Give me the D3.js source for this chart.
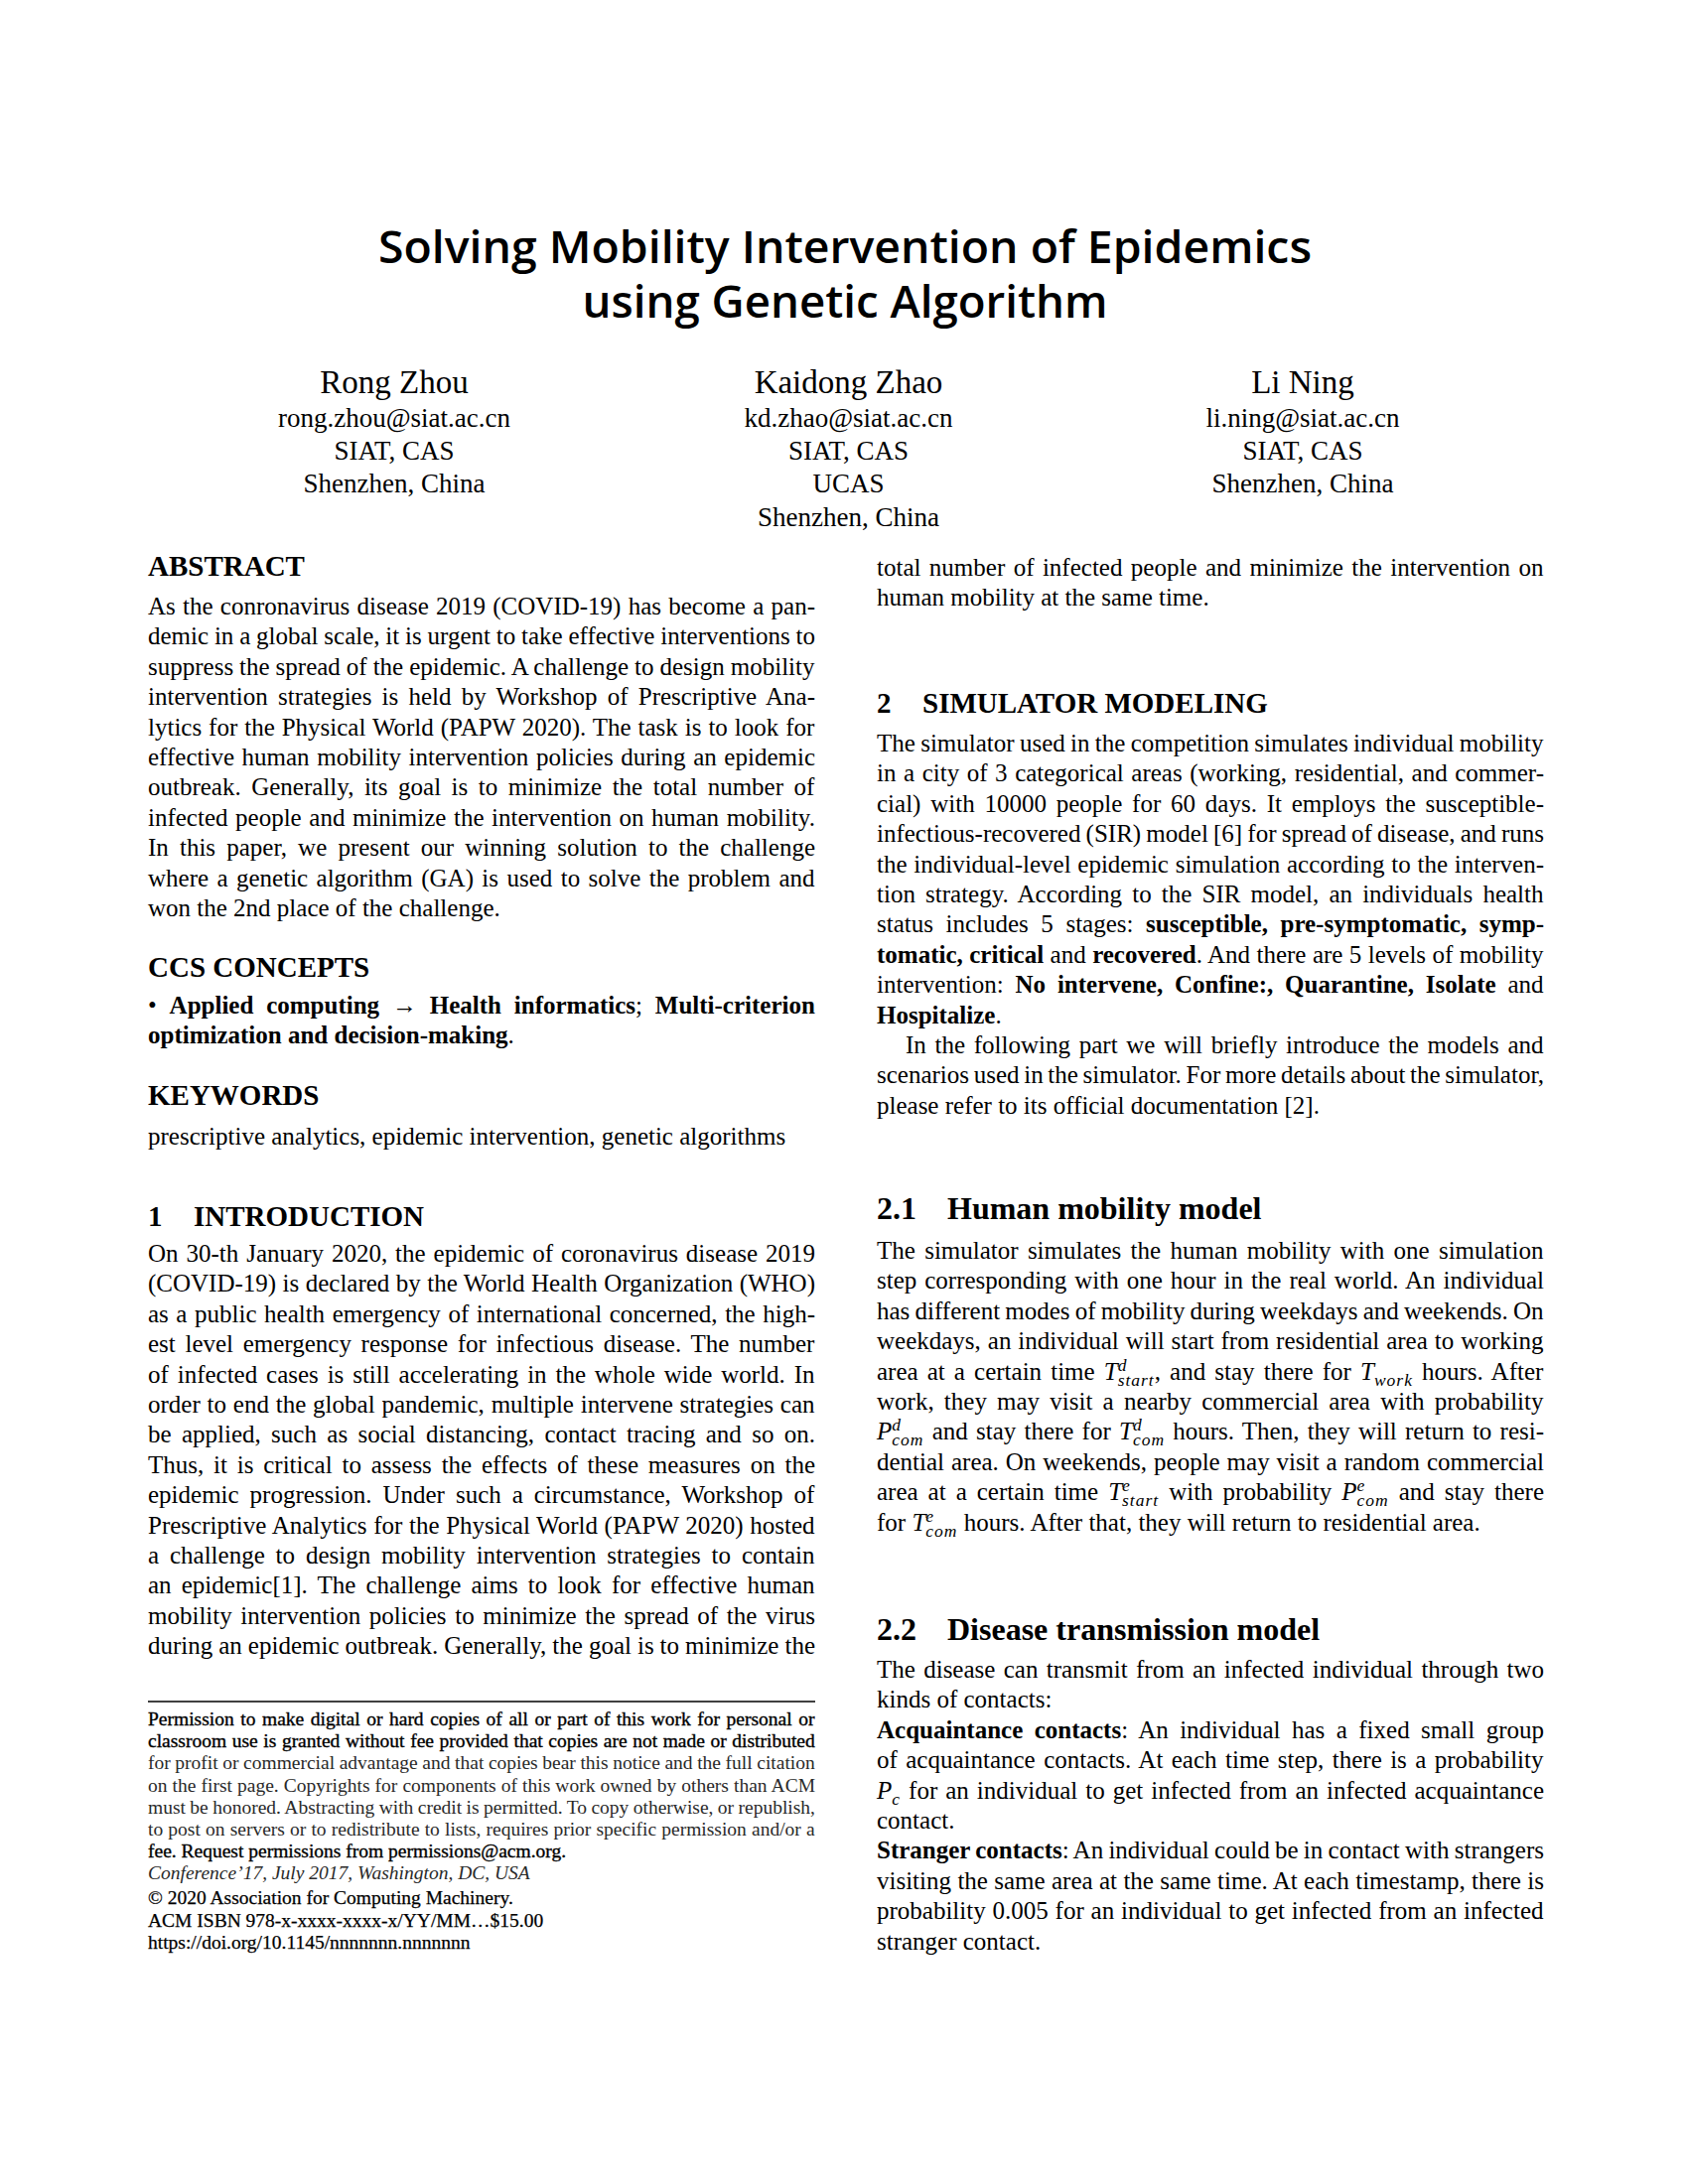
<!DOCTYPE html>
<html><head><meta charset="utf-8">
<script src="https://cdn.jsdelivr.net/npm/d3@7"></script>
<style>html,body{margin:0;padding:0;background:#fff}</style>
</head><body><svg id="page"></svg>
<script>
// ---------- content ----------
const titleLines = ["Solving Mobility Intervention of Epidemics", "using Genetic Algorithm"];
const authorNames = ["Rong Zhou", "Kaidong Zhao", "Li Ning"];
const authorInfo = [
  ["rong.zhou@siat.ac.cn", "SIAT, CAS", "Shenzhen, China"],
  ["kd.zhao@siat.ac.cn", "SIAT, CAS", "UCAS", "Shenzhen, China"],
  ["li.ning@siat.ac.cn", "SIAT, CAS", "Shenzhen, China"]
];
const abstractParas = [[
  "As the conronavirus disease 2019 (COVID-19) has become a pan-",
  "demic in a global scale, it is urgent to take effective interventions to",
  "suppress the spread of the epidemic. A challenge to design mobility",
  "intervention strategies is held by Workshop of Prescriptive Ana-",
  "lytics for the Physical World (PAPW 2020). The task is to look for",
  "effective human mobility intervention policies during an epidemic",
  "outbreak. Generally, its goal is to minimize the total number of",
  "infected people and minimize the intervention on human mobility.",
  "In this paper, we present our winning solution to the challenge",
  "where a genetic algorithm (GA) is used to solve the problem and",
  "won the 2nd place of the challenge."
]];
const ccsParas = [[
  "• **Applied computing** → **Health informatics**; **Multi-criterion**",
  "**optimization and decision-making**."
]];
const keywordParas = [["prescriptive analytics, epidemic intervention, genetic algorithms"]];
const introParas = [[
  "On 30-th January 2020, the epidemic of coronavirus disease 2019",
  "(COVID-19) is declared by the World Health Organization (WHO)",
  "as a public health emergency of international concerned, the high-",
  "est level emergency response for infectious disease. The number",
  "of infected cases is still accelerating in the whole wide world. In",
  "order to end the global pandemic, multiple intervene strategies can",
  "be applied, such as social distancing, contact tracing and so on.",
  "Thus, it is critical to assess the effects of these measures on the",
  "epidemic progression. Under such a circumstance, Workshop of",
  "Prescriptive Analytics for the Physical World (PAPW 2020) hosted",
  "a challenge to design mobility intervention strategies to contain",
  "an epidemic[1]. The challenge aims to look for effective human",
  "mobility intervention policies to minimize the spread of the virus",
  "during an epidemic outbreak. Generally, the goal is to minimize the"
]];
const introContParas = [[
  "total number of infected people and minimize the intervention on",
  "human mobility at the same time."
]];
const simParas = [[
  "The simulator used in the competition simulates individual mobility",
  "in a city of 3 categorical areas (working, residential, and commer-",
  "cial) with 10000 people for 60 days. It employs the susceptible-",
  "infectious-recovered (SIR) model [6] for spread of disease, and runs",
  "the individual-level epidemic simulation according to the interven-",
  "tion strategy. According to the SIR model, an individuals health",
  "status includes 5 stages: **susceptible, pre-symptomatic, symp-**",
  "**tomatic, critical** and **recovered**. And there are 5 levels of mobility",
  "intervention: **No intervene, Confine:, Quarantine, Isolate** and",
  "**Hospitalize**."
], [
  "In the following part we will briefly introduce the models and",
  "scenarios used in the simulator. For more details about the simulator,",
  "please refer to its official documentation [2]."
]];
const mobilityParas = [[
  "The simulator simulates the human mobility with one simulation",
  "step corresponding with one hour in the real world. An individual",
  "has different modes of mobility during weekdays and weekends. On",
  "weekdays, an individual will start from residential area to working",
  "area at a certain time {T|d|start}, and stay there for {T||work} hours. After",
  "work, they may visit a nearby commercial area with probability",
  "{P|d|com} and stay there for {T|d|com} hours. Then, they will return to resi-",
  "dential area. On weekends, people may visit a random commercial",
  "area at a certain time {T|e|start} with probability {P|e|com} and stay there",
  "for {T|e|com} hours. After that, they will return to residential area."
]];
const diseaseParas = [[
  "The disease can transmit from an infected individual through two",
  "kinds of contacts:"
], [
  "**Acquaintance contacts**: An individual has a fixed small group",
  "of acquaintance contacts. At each time step, there is a probability",
  "{P||c} for an individual to get infected from an infected acquaintance",
  "contact."
], [
  "**Stranger contacts**: An individual could be in contact with strangers",
  "visiting the same area at the same time. At each timestamp, there is",
  "probability 0.005 for an individual to get infected from an infected",
  "stranger contact."
]];
const footnoteLines = [
  "Permission to make digital or hard copies of all or part of this work for personal or",
  "classroom use is granted without fee provided that copies are not made or distributed",
  "for profit or commercial advantage and that copies bear this notice and the full citation",
  "on the first page. Copyrights for components of this work owned by others than ACM",
  "must be honored. Abstracting with credit is permitted. To copy otherwise, or republish,",
  "to post on servers or to redistribute to lists, requires prior specific permission and/or a",
  "fee. Request permissions from permissions@acm.org."
];
const footnoteMeta = [
  "Conference’17, July 2017, Washington, DC, USA",
  "© 2020 Association for Computing Machinery.",
  "ACM ISBN 978-x-xxxx-xxxx-x/YY/MM…$15.00",
  "https://doi.org/10.1145/nnnnnnn.nnnnnnn"
];
const sections = [
  {num: "ABSTRACT", title: ""},
  {num: "CCS CONCEPTS", title: ""},
  {num: "KEYWORDS", title: ""},
  {num: "1", title: "INTRODUCTION"},
  {num: "2", title: "SIMULATOR MODELING"},
  {num: "2.1", title: "Human mobility model"},
  {num: "2.2", title: "Disease transmission model"}
];

// ---------- layout ----------
const W = 1700, H = 2200;
const SERIF = "'Liberation Serif','Times New Roman',serif";
const SANS = "'Open Sans','Noto Sans',sans-serif";
const L = {x: 149, w: 672}, R = {x: 883, w: 672};
const BODY = 25, LH = 30.4;

const svg = d3.select("#page").attr("width", W).attr("height", H)
  .attr("viewBox", `0 0 ${W} ${H}`);
svg.append("rect").attr("width", W).attr("height", H).attr("fill", "#fff");

function richLine(g, str, x, y, o) {
  const t = g.append("text").attr("x", x).attr("y", y)
    .attr("font-family", o.family || SERIF).attr("font-size", o.size)
    .attr("fill", o.fill || "#000").style("white-space", "pre");
  if (o.italic) t.attr("font-style", "italic");
  if (o.stroke) t.attr("stroke", o.fill || "#000").attr("stroke-width", o.stroke);
  const parts = str.split(/(\*\*[^*]+\*\*|\{[^}]+\})/).filter(s => s.length);
  let shift = 0, plain = "";
  parts.forEach(p => {
    if (p.startsWith("**")) {
      const s = p.slice(2, -2);
      t.append("tspan").attr("font-weight", "bold").attr("dy", -shift).text(s);
      shift = 0; plain += s;
    } else if (p.startsWith("{")) {
      const [base, sup, sub] = p.slice(1, -1).split("|");
      t.append("tspan").attr("font-style", "italic").attr("dy", -shift).text(base);
      shift = 0; plain += base;
      const ss = o.size * 0.7;
      let supW = 0;
      if (sup) {
        const up = -o.size * 0.36;
        const s = t.append("tspan").attr("font-style", "italic").attr("font-size", ss)
          .attr("dy", up - shift).text(sup);
        shift = up; supW = s.node().getComputedTextLength();
      }
      if (sub) {
        const dn = o.size * 0.24;
        t.append("tspan").attr("font-style", "italic").attr("font-size", ss)
          .attr("dx", sup ? -supW : 0).attr("dy", dn - shift)
          .attr("letter-spacing", 1).text(sub);
        shift = dn;
      }
    } else {
      t.append("tspan").attr("dy", -shift).text(p);
      shift = 0; plain += p;
    }
  });
  if (o.justify) {
    const n = (plain.match(/ /g) || []).length;
    if (n > 0) {
      const bb = t.node().getBBox();
      const nat = bb.x + bb.width - x;
      t.style("word-spacing", ((o.right - x - nat) / n) + "px");
    }
  }
  return t;
}

function block(paras, col, y0, opts = {}) {
  const yScale = d3.scaleLinear().domain([0, 1]).range([y0, y0 + (opts.lh || LH)]);
  const g = svg.append("g");
  let i = 0;
  paras.forEach((lines, pi) => {
    lines.forEach((ln, li) => {
      const isLast = li === lines.length - 1 && !(opts.continues && pi === paras.length - 1);
      const indent = (li === 0 && opts.indentParas && opts.indentParas.includes(pi)) ? 29 : 0;
      richLine(g, ln, col.x + indent, yScale(i), {
        size: opts.size || BODY, justify: !isLast, right: col.x + col.w
      });
      i++;
    });
  });
}

function heading(sec, col, y, size) {
  const g = svg.append("g");
  g.append("text").attr("x", col.x).attr("y", y).attr("font-family", SERIF)
    .attr("font-weight", "bold").attr("font-size", size).text(sec.num);
  if (sec.title) {
    const off = sec.num.length > 1 ? 71 : 46;
    g.append("text").attr("x", col.x + off).attr("y", y).attr("font-family", SERIF)
      .attr("font-weight", "bold").attr("font-size", size).text(sec.title);
  }
}

// title
const titleY = d3.scaleLinear().domain([0, 1]).range([265, 320]);
const titleW = [940, 529];
svg.append("g").selectAll("text").data(titleLines).join("text")
  .attr("x", 851).attr("y", (d, i) => titleY(i))
  .attr("text-anchor", "middle").attr("font-family", SANS).attr("font-weight", 600)
  .attr("font-size", 45).attr("textLength", (d, i) => titleW[i])
  .attr("lengthAdjust", "spacingAndGlyphs").attr("fill", "#000").text(d => d);

// authors
const authorX = d3.scalePoint().domain(authorNames).range([397, 1312]);
const infoY = d3.scaleLinear().domain([0, 1]).range([430, 463.2]);
authorNames.forEach((name, k) => {
  const g = svg.append("g");
  g.append("text").attr("x", authorX(name)).attr("y", 396).attr("text-anchor", "middle")
    .attr("font-family", SERIF).attr("font-size", 33).text(name);
  g.selectAll("text.info").data(authorInfo[k]).join("text").attr("class", "info")
    .attr("x", authorX(name)).attr("y", (d, i) => infoY(i)).attr("text-anchor", "middle")
    .attr("font-family", SERIF).attr("font-size", 27).text(d => d);
});

// left column
heading(sections[0], L, 580, 29);
block(abstractParas, L, 619);
heading(sections[1], L, 984, 29);
block(ccsParas, L, 1021);
heading(sections[2], L, 1113, 29);
block(keywordParas, L, 1153);
heading(sections[3], L, 1235, 29);
block(introParas, L, 1271, {continues: true});

// footnote
svg.append("line").attr("x1", L.x).attr("x2", L.x + L.w).attr("y1", 1714).attr("y2", 1714)
  .attr("stroke", "#000").attr("stroke-width", 1.6);
const fnY = d3.scaleLinear().domain([0, 1]).range([1738, 1760.2]);
const fg = svg.append("g");
footnoteLines.forEach((ln, i) => {
  const heavy = i < 2 || i === 6;
  richLine(fg, ln, L.x, fnY(i), {size: 19.5, justify: i < 6, right: L.x + L.w,
    fill: heavy ? "#000" : "#2a2a2a", stroke: heavy ? 0.35 : 0});
});
const metaY = [1893, 1918, 1941, 1963];
footnoteMeta.forEach((ln, i) => {
  richLine(fg, ln, L.x, metaY[i], {size: 19.5, italic: i === 0,
    fill: i === 0 ? "#2a2a2a" : "#000", stroke: i === 0 ? 0 : 0.25});
});

// right column
block(introContParas, R, 580);
heading(sections[4], R, 718, 29);
block(simParas, R, 757, {indentParas: [1]});
heading(sections[5], R, 1228, 32);
block(mobilityParas, R, 1268);
heading(sections[6], R, 1652, 32);
block(diseaseParas, R, 1690);
</script>
</body></html>
